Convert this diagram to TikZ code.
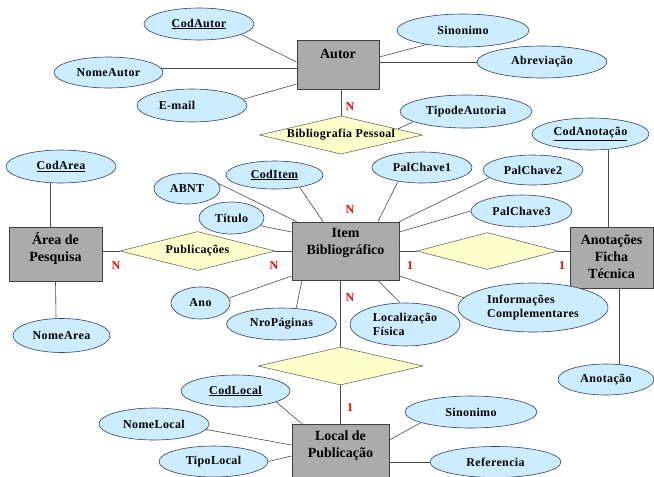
\documentclass[tikz,border=0pt]{standalone}
\usepackage{fontspec}
\setmainfont{Liberation Serif}
\newfontfamily\attrfamily[LetterSpace=3]{Liberation Serif}
\usetikzlibrary{shapes.geometric}
\definecolor{ellfill}{HTML}{CCECFF}
\definecolor{ellline}{HTML}{34405C}
\definecolor{boxfill}{HTML}{ABABAB}
\definecolor{boxline}{HTML}{404040}
\definecolor{relfill}{HTML}{FFFFCC}
\definecolor{relline}{HTML}{6A6A6A}
\definecolor{lineclr}{HTML}{4A4A4A}
\definecolor{cardred}{HTML}{FF0000}
\newcommand\attrfont{\attrfamily\fontsize{12}{14.5}\selectfont\bfseries}
\newcommand\entfont{\fontsize{14}{17}\selectfont\bfseries}
\newcommand\cardfont{\fontsize{12}{14}\selectfont\bfseries}
\begin{document}
\begin{tikzpicture}[x=1pt,y=-1pt,
  attr/.style={ellipse, draw=ellline, fill=ellfill, line width=0.6pt, inner sep=0pt, font=\attrfont, align=center},
  ent/.style={rectangle, draw=boxline, fill=boxfill, line width=0.8pt, inner sep=0pt},
  enttxt/.style={font=\entfont, align=center, inner sep=0pt},
  rel/.style={diamond, draw=relline, fill=relfill, line width=0.6pt, inner sep=0pt, aspect=4, font=\attrfont},
  card/.style={text=cardred, font=\cardfont, inner sep=0pt},
  conn/.style={draw=lineclr, line width=0.6pt}]
\fill[white] (0,0) rectangle (654,477);
\useasboundingbox (0,0) rectangle (654,477);

% entities
\node[ent, minimum width=82pt, minimum height=49pt] (autor) at (338,64.5) {};
\node[enttxt] (autort) at (338,54) {Autor};
\node[ent, minimum width=93pt, minimum height=54pt] (area) at (55.5,254) {};
\node[enttxt] (areat) at (55.5,248.5) {Área de\\Pesquisa};
\node[ent, minimum width=107pt, minimum height=58pt] (item) at (345.5,251) {};
\node[enttxt] (itemt) at (345.5,243) {Item\\Bibliográfico};
\node[ent, minimum width=83pt, minimum height=61pt] (anot) at (611.5,257.5) {};
\node[enttxt] (anott) at (611.5,257) {Anotações\\Ficha\\Técnica};
\node[ent, minimum width=97pt, minimum height=58pt] (local) at (340.5,453) {};
\node[enttxt] (localt) at (340.5,446) {Local de\\Publicação};

% relationships
\node[rel, minimum width=163pt, minimum height=38pt] (bib) at (341,135) {Bibliografia Pessoal};
\node[rel, minimum width=155pt, minimum height=39pt] (pub) at (197.5,251) {Publicações};
\node[rel, minimum width=141pt, minimum height=37pt] (rel2) at (487.5,251) {};
\node[rel, minimum width=165pt, minimum height=38pt] (rel3) at (340.5,366) {};

% attributes
\node[attr, minimum width=110pt, minimum height=32pt] (codautor) at (199,24) {\underline{CodAutor}};
\node[attr, minimum width=109pt, minimum height=31pt] (nomeautor) at (108.5,72.5) {NomeAutor};
\node[attr, minimum width=110pt, minimum height=33pt] (email) at (192,105.5) {E-mail\hspace*{30pt}};
\node[attr, minimum width=132pt, minimum height=33pt] (sinon1) at (463,30.5) {Sinonimo};
\node[attr, minimum width=130pt, minimum height=32pt] (abrev) at (542,62) {Abreviação};
\node[attr, minimum width=132pt, minimum height=33pt] (tipoaut) at (466,111.5) {TipodeAutoria};
\node[attr, minimum width=117pt, minimum height=32pt] (codanot) at (590.5,134) {\underline{CodAnotação}};
\node[attr, minimum width=110pt, minimum height=33pt] (codarea) at (61,166.5) {\underline{CodArea}};
\node[attr, minimum width=97pt, minimum height=34pt] (nomearea) at (61.5,335.5) {NomeArea};
\node[attr, minimum width=97pt, minimum height=28pt] (coditem) at (274.5,175) {\underline{CodItem}};
\node[attr, minimum width=66pt, minimum height=31pt] (abnt) at (187,188.5) {ABNT};
\node[attr, minimum width=65pt, minimum height=32pt] (titulo) at (231.5,218) {Título};
\node[attr, minimum width=59pt, minimum height=32pt] (ano) at (200.5,303) {Ano};
\node[attr, minimum width=110pt, minimum height=32pt] (nropag) at (281.5,324) {NroPáginas};
\node[attr, minimum width=100pt, minimum height=31pt] (pal1) at (422,167.5) {PalChave1};
\node[attr, minimum width=100pt, minimum height=30pt] (pal2) at (533,170) {PalChave2};
\node[attr, minimum width=101pt, minimum height=32pt] (pal3) at (521.5,211) {PalChave3};
\node[attr, minimum width=150pt, minimum height=49pt, align=left] (info) at (533,307.5) {Informações\\Complementares};
\node[attr, minimum width=110pt, minimum height=43pt, align=left] (locfis) at (405,324.5) {Localização\\Física};
\node[attr, minimum width=96pt, minimum height=31pt] (anotacao) at (606,379.5) {Anotação};
\node[attr, minimum width=109pt, minimum height=32pt] (codlocal) at (235.5,391) {\underline{CodLocal}};
\node[attr, minimum width=110pt, minimum height=32pt] (nomelocal) at (154,424) {NomeLocal};
\node[attr, minimum width=109pt, minimum height=31pt] (tipolocal) at (213.5,461.5) {TipoLocal};
\node[attr, minimum width=132pt, minimum height=32pt] (sinon2) at (471,412) {Sinonimo};
\node[attr, minimum width=131pt, minimum height=31pt] (referencia) at (495.5,462) {Referencia};

% connectors
\draw[conn] (codautor.-14) -- ([yshift=2.5pt]autor.west);
\draw[conn] (nomeautor.5) -- (nomeautor.5 -| autor.west);
\draw[conn] (email.7) -- ([yshift=-19.5pt]autor.west);
\draw[conn] (sinon1.201) -- ([yshift=7.5pt]autor.east);
\draw[conn] (abrev.west) -- (abrev.west -| autor.east);
\draw[conn] (bib.north) -- (bib.north |- autor.south);
\draw[conn] (tipoaut.191) -- (bib.6);
\draw[conn] ([xshift=-10.5pt]codarea.south) -- ([xshift=-5pt]area.north);
\draw[conn] (area.south) -- ([xshift=-5.5pt]nomearea.north);
\draw[conn] (pub.west) -- (pub.west -| area.east);
\draw[conn] (pub.east) -- (pub.east -| item.west);
\draw[conn] (coditem.-26) -- ([xshift=-22.5pt]item.north);
\draw[conn] (abnt.9) -- ([xshift=5pt]item.north west);
\draw[conn] (titulo.-15) -- ([yshift=19pt]item.west);
\draw[conn] (ano.10) -- ([yshift=-25pt]item.west);
\draw[conn] (nropag.47) -- ([xshift=-43.5pt]item.south);
\draw[conn] (pal1.210) -- ([xshift=32.5pt]item.north);
\draw[conn] (pal2.190) -- (item.north east);
\draw[conn] (pal3.west) -- ([yshift=19pt]item.east);
\draw[conn] (rel2.west) -- (rel2.west -| item.east);
\draw[conn] (rel2.east) -- (rel2.east -| anot.west);
\draw[conn] ([xshift=17.5pt]codanot.south) -- ([xshift=-3.5pt]anot.north);
\draw[conn] ([xshift=7.5pt]anot.south) -- ([xshift=13pt]anotacao.north);
\draw[conn] (info.172) -- ([yshift=-25pt]item.east);
\draw[conn] (locfis.103) -- ([xshift=32.5pt]item.south);
\draw[conn] (rel3.north) -- (rel3.north |- item.south);
\draw[conn] (rel3.south) -- (rel3.south |- local.north);
\draw[conn] (codlocal.-15) -- ([xshift=10pt]local.north west);
\draw[conn] (nomelocal.-6) -- ([yshift=8pt]local.west);
\draw[conn] (tipolocal.east) -- ([yshift=-3pt]local.west);
\draw[conn] (sinon2.192) -- ([yshift=13pt]local.east);
\draw[conn] (referencia.west) -- (referencia.west -| local.east);

% cardinalities
\node[card] (c1) at (350,107) {N};
\node[card] (c2) at (350,210) {N};
\node[card] (c3) at (350,298) {N};
\node[card] (c4) at (116,266) {N};
\node[card] (c5) at (274,266) {N};
\node[card] (c6) at (410,266) {1};
\node[card] (c7) at (562,266) {1};
\node[card] (c8) at (350,408) {1};
\end{tikzpicture}
\end{document}
